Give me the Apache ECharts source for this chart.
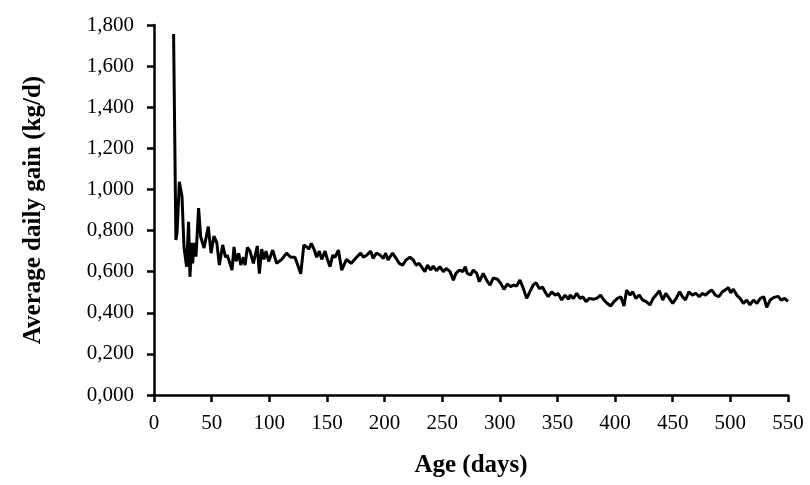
<!DOCTYPE html>
<html>
<head>
<meta charset="utf-8">
<script src="https://cdn.jsdelivr.net/npm/echarts@6/dist/echarts.min.js"></script>
<style>
  html, body { margin: 0; padding: 0; background: #fff; }
  #chart { width: 810px; height: 485px; }
</style>
</head>
<body>
<div id="chart"></div>
<script>
// age (days) and average daily gain (kg/d)
const ages = [
  17, 19, 20, 22, 23, 24.3, 25.4, 26, 28.3, 30, 31.2, 32.8, 33.5, 34.7, 36.4, 38.7, 40.5, 43.4, 47.1, 49.5,
  52, 54.5, 56.7, 59.6, 62, 63.6, 65.9, 67.7, 69.4, 71.2, 73.5, 75.3, 77.6, 79, 81, 83.3, 86.2, 89.6, 91.4, 93.4,
  95.4, 97.2, 99.5, 103, 106.4, 110.8, 115, 118.6, 122.3, 124, 127.3, 130, 132.5, 134.3, 136.5, 138.8, 141.1, 143.4, 145.5, 148.4,
  150.4, 152.7, 155, 157, 160, 162.8, 167, 171, 175.7, 179.3, 181.6, 184.5, 188, 190, 193, 196, 199, 201, 203, 207,
  210, 212.8, 215.7, 218.6, 222, 225, 227.3, 230, 233, 235, 237.3, 240, 242.2, 245, 248, 251, 253.5, 256.8, 259.7, 262,
  265, 268, 270, 271.7, 274.6, 277, 280, 282.2, 285.6, 288.5, 291.5, 294.4, 297.9, 300.8, 303.6, 306.5, 309.4, 312, 314.6, 317.5,
  320.4, 323.3, 326, 329, 331.4, 334.3, 337, 339.2, 342, 345, 348, 350.6, 353.7, 356.6, 359.6, 361, 363.8, 366.7, 369.6, 372,
  374.8, 377.7, 381, 384, 387.4, 390.3, 393, 396.2, 399, 402, 405, 407.7, 410, 413, 415.3, 418, 421, 424, 427, 430.3,
  433, 435.5, 438.4, 441.3, 444, 447, 450, 453, 456, 458.5, 461, 464, 467, 470, 473, 475.6, 478.5, 481.4, 484, 487,
  490, 493, 495.5, 498.3, 500.3, 502.6, 505.5, 508.4, 511.3, 514.2, 517, 520, 523, 526, 529, 531.5, 534.5, 538, 541.6, 544,
  547, 550
];
const gains = [
  1.756, 0.754, 0.79, 1.037, 1.03, 0.965, 0.97, 0.72, 0.624, 0.843, 0.575, 0.74, 0.64, 0.74, 0.673, 0.909, 0.77, 0.715, 0.819, 0.69,
  0.773, 0.74, 0.632, 0.73, 0.67, 0.68, 0.64, 0.608, 0.72, 0.65, 0.69, 0.632, 0.67, 0.632, 0.718, 0.70, 0.64, 0.725, 0.59, 0.71,
  0.66, 0.70, 0.65, 0.705, 0.64, 0.66, 0.69, 0.67, 0.67, 0.665, 0.59, 0.73, 0.72, 0.71, 0.738, 0.71, 0.67, 0.70, 0.66, 0.70,
  0.66, 0.624, 0.68, 0.67, 0.705, 0.608, 0.66, 0.64, 0.67, 0.69, 0.67, 0.68, 0.70, 0.665, 0.69, 0.681, 0.665, 0.69, 0.657, 0.69,
  0.665, 0.64, 0.632, 0.657, 0.67, 0.657, 0.632, 0.64, 0.616, 0.60, 0.632, 0.608, 0.627, 0.605, 0.624, 0.60, 0.616, 0.60, 0.559, 0.592,
  0.608, 0.60, 0.624, 0.592, 0.584, 0.608, 0.592, 0.551, 0.592, 0.559, 0.535, 0.57, 0.563, 0.543, 0.514, 0.54, 0.527, 0.535, 0.53, 0.559,
  0.518, 0.47, 0.502, 0.535, 0.546, 0.518, 0.525, 0.502, 0.478, 0.502, 0.486, 0.494, 0.462, 0.486, 0.465, 0.486, 0.47, 0.494, 0.47, 0.478,
  0.454, 0.47, 0.466, 0.47, 0.486, 0.462, 0.446, 0.433, 0.454, 0.47, 0.478, 0.433, 0.51, 0.486, 0.502, 0.47, 0.486, 0.462, 0.454, 0.438,
  0.47, 0.486, 0.507, 0.462, 0.494, 0.47, 0.446, 0.47, 0.502, 0.478, 0.462, 0.502, 0.486, 0.494, 0.478, 0.494, 0.486, 0.502, 0.51, 0.486,
  0.478, 0.502, 0.51, 0.523, 0.497, 0.515, 0.486, 0.47, 0.446, 0.462, 0.438, 0.462, 0.446, 0.47, 0.478, 0.426, 0.462, 0.475, 0.48, 0.462,
  0.47, 0.455
];
const xTicks = [0, 50, 100, 150, 200, 250, 300, 350, 400, 450, 500, 550];

const font = 'Liberation Serif, Times New Roman, serif';
const chart = echarts.init(document.getElementById('chart'));

chart.setOption({
  animation: false,
  grid: { left: 154, right: 22, top: 25, bottom: 90 },
  xAxis: {
    type: 'value',
    min: xTicks[0],
    max: xTicks[xTicks.length - 1],
    interval: 50,
    name: 'Age (days)',
    nameLocation: 'middle',
    nameGap: 58,
    nameTextStyle: { fontFamily: font, fontWeight: 'bold', fontSize: 25, color: '#000' },
    axisLine: { lineStyle: { color: '#000', width: 2.5 } },
    axisTick: { length: 7, lineStyle: { color: '#000', width: 2.5 } },
    axisLabel: { fontFamily: font, fontSize: 21, color: '#000', margin: 18 },
    splitLine: { show: false }
  },
  yAxis: {
    type: 'value',
    min: 0,
    max: 1.8,
    interval: 0.2,
    name: 'Average daily gain (kg/d)',
    nameLocation: 'middle',
    nameGap: 108,
    nameTextStyle: { fontFamily: font, fontWeight: 'bold', fontSize: 25, color: '#000' },
    axisLine: { show: true, lineStyle: { color: '#000', width: 2.5 } },
    axisTick: { show: true, length: 7, lineStyle: { color: '#000', width: 2.5 } },
    axisLabel: {
      fontFamily: font, fontSize: 21, color: '#000', margin: 20,
      formatter: v => v.toFixed(3).replace('.', ',')
    },
    splitLine: { show: false }
  },
  series: [{
    type: 'line',
    data: ages.map((a, i) => [a, gains[i]]),
    showSymbol: false,
    lineStyle: { color: '#000', width: 3 },
    z: 3
  }]
});
</script>
</body>
</html>
